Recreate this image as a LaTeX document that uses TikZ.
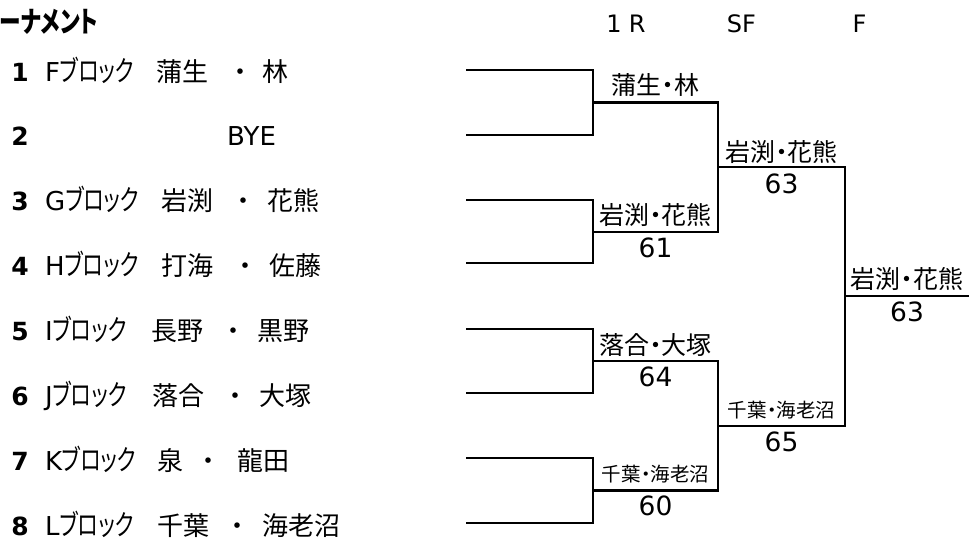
\documentclass[tikz,border=0pt]{standalone}
\usepackage{fontspec}
\usepackage{graphicx}
\setmainfont{DejaVu Sans}
\newfontfamily\jp{Noto Sans CJK JP}[RawFeature=+palt]
\newcommand{\blk}{\resizebox{74pt}{\height}{\jp\fontsize{28.5}{32}\selectfont ブロック}}
\begin{document}
\begin{tikzpicture}[x=1pt,y=-1pt,
  lthin/.style={line width=2pt, line join=miter, line cap=rect},
  lwin/.style={line width=2.8pt, line join=miter, line cap=rect},
  t/.style={inner sep=0pt, anchor=base},
  rowf/.style={font=\fontsize{26}{30}\selectfont},
  rowj/.style={font=\jp\fontsize{26}{30}\selectfont},
  lab/.style={t, font=\jp\fontsize{25}{30}\selectfont},
  labs/.style={t, font=\jp\fontsize{19.5}{24}\selectfont},
  num/.style={t, font=\fontsize{26.5}{30}\selectfont},
  head/.style={t, font=\fontsize{24}{28}\selectfont}]
\useasboundingbox (0,0) rectangle (969,541);

% title and headers
\node[t, anchor=base west, font=\jp\bfseries\fontsize{29}{34}\selectfont] (title) at (0,32) {\resizebox{98pt}{\height}{ーナメント}};
\node[head] (h1) at (626,32) {1\hspace{0.3em}R};
\node[head] (h2) at (741.5,32) {SF};
\node[head] (h3) at (859.5,32) {F};

% entries
\foreach \i/\L/\na/\xa/\xd/\nb/\xb in {1/F/蒲生/157/240/林/263,
  3/G/岩渕/162/243/花熊/268, 4/H/打海/162/245/佐藤/270,
  5/I/長野/152/233/黒野/258, 6/J/落合/153/235/大塚/260,
  7/K/泉/158/208/龍田/238, 8/L/千葉/158/237/海老沼/263}{
  \pgfmathsetmacro\yy{81+64.9*(\i-1)}
  \node[t, font=\bfseries\fontsize{25}{30}\selectfont] (n\i) at (20,\yy) {\i};
  \node[t, anchor=base west, rowf] (k\i) at (45,\yy) {\L\blk};
  \node[t, anchor=base west, rowj] (x\i) at (\xa-1,\yy) {\na};
  \node[t, rowj] (m\i) at (\xd,\yy) {・};
  \node[t, anchor=base west, rowj] (z\i) at (\xb-1,\yy) {\nb};
}
\node[t, font=\bfseries\fontsize{25}{30}\selectfont] (n2) at (20,145.9) {2};
\node[t, anchor=base west, rowf] (bye) at (227,145.9) {BYE};

% bracket coordinates
\foreach \i/\y in {1/70,2/135,3/200,4/263,5/329,6/393,7/458,8/523}{
  \coordinate (a\i) at (467,\y);
  \coordinate (b\i) at (593,\y);
}
\coordinate (c1) at (593,102.5); \coordinate (d1) at (718,102.5);
\coordinate (c2) at (593,232);   \coordinate (d2) at (718,232);
\coordinate (c3) at (593,361);   \coordinate (d3) at (718,361);
\coordinate (c4) at (593,490.5); \coordinate (d4) at (718,490.5);
\coordinate (e1) at (718,167);   \coordinate (f1) at (845,167);
\coordinate (e2) at (718,426);   \coordinate (f2) at (845,426);
\coordinate (g) at (845,296);    \coordinate (h) at (969,296);

% bracket lines
\draw[lwin]  (a1) -- (b1) -- (c1) -- (d1);
\draw[lthin] (a2) -- (b2) -- (c1);
\draw[lwin]  (a3) -- (b3) -- (c2) -- (d2);
\draw[lthin] (a4) -- (b4) -- (c2);
\draw[lthin] (a5) -- (b5) -- (c3);
\draw[lwin]  (a6) -- (b6) -- (c3) -- (d3);
\draw[lthin] (a7) -- (b7) -- (c4);
\draw[lwin]  (a8) -- (b8) -- (c4) -- (d4);
\draw[lthin] (d1) -- (e1);
\draw[lwin]  (d2) -- (e1) -- (f1) -- (g) -- (h);
\draw[lthin] (d3) -- (e2);
\draw[lwin]  (d4) -- (e2) -- (f2);
\draw[lthin] (f2) -- (g);

% round labels
\node[lab]  (w1) at (655.5,94.5) {蒲生・林};
\node[lab]  (w2) at (655.5,224) {岩渕・花熊};
\node[num]  (p2) at (655.5,257.5) {61};
\node[lab]  (w3) at (655.5,354) {落合・大塚};
\node[num]  (p3) at (655.5,386.5) {64};
\node[labs] (w4) at (655.5,481) {千葉・海老沼};
\node[num]  (p4) at (655.5,515.5) {60};
\node[lab]  (s1) at (781.5,161) {岩渕・花熊};
\node[num]  (q1) at (781.5,193.5) {63};
\node[labs] (s2) at (781.5,417) {千葉・海老沼};
\node[num]  (q2) at (781.5,451.5) {65};
\node[lab]  (fw) at (907,288) {岩渕・花熊};
\node[num]  (fq) at (907,321.5) {63};
\end{tikzpicture}
\end{document}
